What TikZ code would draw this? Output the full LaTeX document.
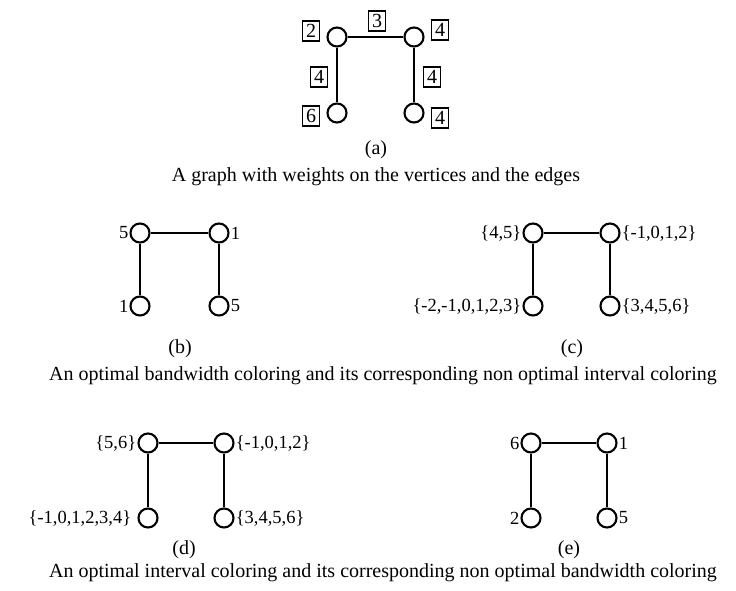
\documentclass[tikz,border=0pt]{standalone}
\usepackage{fontspec}
\setmainfont{Liberation Serif}
\begin{document}
\begin{tikzpicture}[x=1pt,y=-1pt,
  every node/.style={font=\fontsize{20}{23}\selectfont},
  vtx/.style={circle,draw,line width=2.1pt,minimum size=19pt,inner sep=0pt},
  edge/.style={line width=2pt},
  wbox/.style={draw,line width=1.6pt,inner sep=1.5pt,minimum width=17pt,minimum height=20pt},
  lab/.style={inner sep=1pt,font=\fontsize{18.5}{22}\selectfont},
  every label/.style={lab},
  label distance=0pt]
\useasboundingbox (0,0) rectangle (736,590);

% (a) weighted graph
\node[vtx] (a1) at (337,37) {};
\node[vtx] (a2) at (414,37) {};
\node[vtx] (a3) at (337,113) {};
\node[vtx] (a4) at (414,113) {};
\draw[edge] (a1) -- (a2) (a1) -- (a3) (a2) -- (a4);
\node[wbox] (w1) at (311,31) {2};
\node[wbox] (w2) at (377,21) {3};
\node[wbox] (w3) at (440,30) {4};
\node[wbox] (w4) at (319,77) {4};
\node[wbox] (w5) at (432,77) {4};
\node[wbox] (w6) at (311,116) {6};
\node[wbox] (w7) at (440,118) {4};
\node (ta) at (376,150) {(a)};
\node (ca) at (376,177) {A graph with weights on the vertices and the edges};

% (b) bandwidth coloring
\node[vtx,label=left:5] (b1) at (140,233) {};
\node[vtx,label=right:1] (b2) at (219,233) {};
\node[vtx,label=left:1] (b3) at (140,306) {};
\node[vtx,label=right:5] (b4) at (219,306) {};
\draw[edge] (b1) -- (b2) (b1) -- (b3) (b2) -- (b4);
\node (tb) at (180,349) {(b)};

% (c) interval coloring
\node[vtx,label=left:{\{4,5\}}] (c1) at (533,233) {};
\node[vtx,label=right:{\{-1,0,1,2\}}] (c2) at (610,233) {};
\node[vtx,label=left:{\{-2,-1,0,1,2,3\}}] (c3) at (533,306) {};
\node[vtx,label=right:{\{3,4,5,6\}}] (c4) at (610,306) {};
\draw[edge] (c1) -- (c2) (c1) -- (c3) (c2) -- (c4);
\node (tc) at (572,349) {(c)};
\node (cbc) at (383,376) {An optimal bandwidth coloring and its corresponding non optimal interval coloring};

% (d) interval coloring
\node[vtx,label=left:{\{5,6\}}] (d1) at (148,443) {};
\node[vtx,label=right:{\{-1,0,1,2\}}] (d2) at (224,443) {};
\node[vtx,label={[label distance=5pt]left:{\{-1,0,1,2,3,4\}}}] (d3) at (148,518) {};
\node[vtx,label=right:{\{3,4,5,6\}}] (d4) at (224,518) {};
\draw[edge] (d1) -- (d2) (d1) -- (d3) (d2) -- (d4);
\node (td) at (184,550) {(d)};

% (e) bandwidth coloring
\node[vtx,label=left:6] (e1) at (531,443) {};
\node[vtx,label=right:1] (e2) at (607,443) {};
\node[vtx,label=left:2] (e3) at (531,518) {};
\node[vtx,label=right:5] (e4) at (607,518) {};
\draw[edge] (e1) -- (e2) (e1) -- (e3) (e2) -- (e4);
\node (te) at (569,550) {(e)};
\node (cde) at (383,573) {An optimal interval coloring and its corresponding non optimal bandwidth coloring};
\end{tikzpicture}
\end{document}
